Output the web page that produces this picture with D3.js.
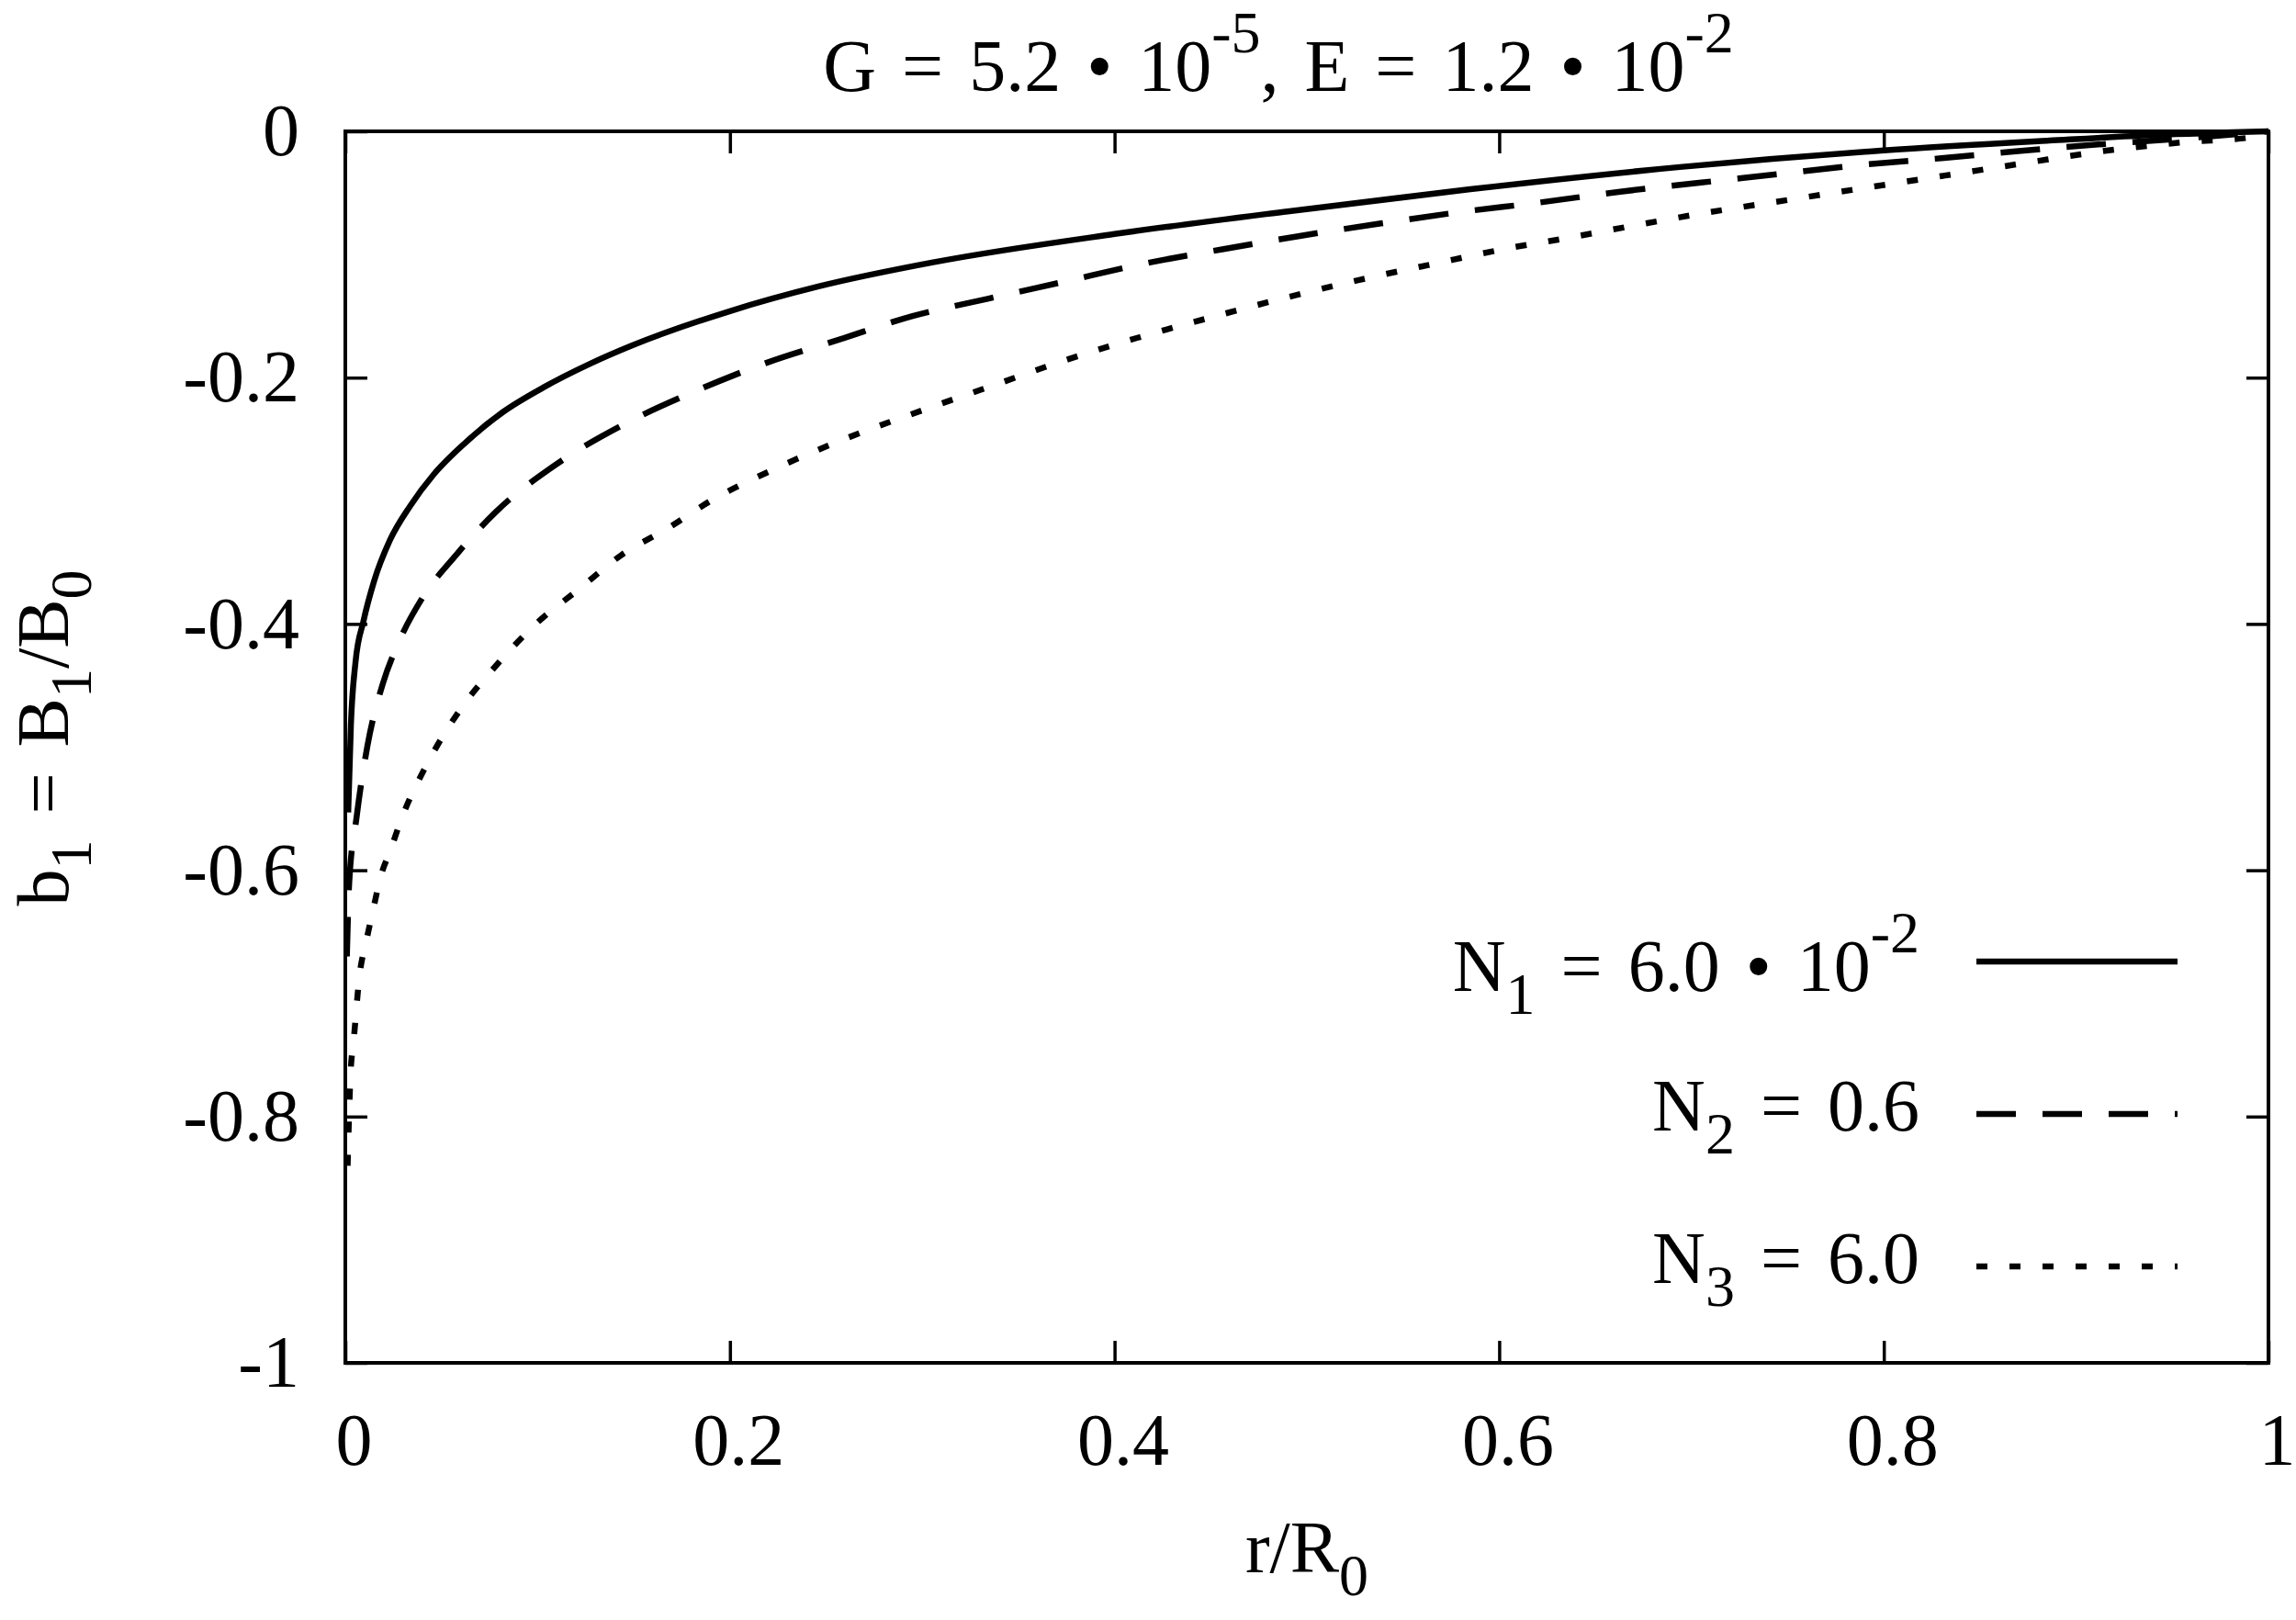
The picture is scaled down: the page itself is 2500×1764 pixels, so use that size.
<!DOCTYPE html>
<html>
<head>
<meta charset="utf-8">
<script src="https://cdn.jsdelivr.net/npm/d3@7"></script>
<style>
  body { margin: 0; background: #fff; }
  text { font-family: "Liberation Serif", "Times New Roman", serif; fill: #000; white-space: pre; }
</style>
</head>
<body>
<div id="chart"></div>
<script>
// values: [r/R0, b1]
const n1Points = [
  [0.0015, -0.553], [0.0029, -0.482], [0.0053, -0.431], [0.0094, -0.398], [0.015, -0.365],
  [0.0232, -0.332], [0.0338, -0.304], [0.046, -0.2785], [0.0623, -0.253], [0.0819, -0.228],
  [0.103, -0.208], [0.1275, -0.1886], [0.1487, -0.1742], [0.2, -0.146], [0.246, -0.126],
  [0.307, -0.106], [0.4, -0.0834], [0.49, -0.065], [0.585, -0.047], [0.694, -0.029],
  [0.8, -0.0155], [0.886, -0.0075], [0.941, -0.003], [1, 0]
];
const n2Points = [
  [0.0008, -0.67], [0.002, -0.611], [0.0059, -0.5565], [0.0115, -0.499], [0.0194, -0.449],
  [0.028, -0.414], [0.04, -0.379], [0.0576, -0.344], [0.0783, -0.309], [0.111, -0.269],
  [0.146, -0.237], [0.182, -0.211], [0.219, -0.188], [0.257, -0.169], [0.295, -0.15],
  [0.334, -0.136], [0.374, -0.122], [0.415, -0.1076], [0.456, -0.0958], [0.497, -0.0848],
  [0.5385, -0.0748], [0.58, -0.0655], [0.62, -0.058], [0.663, -0.049], [0.704, -0.0418],
  [0.746, -0.0346], [0.787, -0.0275], [0.83, -0.0218], [0.87, -0.0161], [0.914, -0.0104],
  [0.955, -0.006], [1, 0]
];
const n3Points = [
  [0.0012, -0.84], [0.0027, -0.766], [0.0043, -0.739], [0.0075, -0.684], [0.0107, -0.659],
  [0.0146, -0.631], [0.0186, -0.604], [0.0234, -0.584], [0.029, -0.559], [0.0433, -0.5115],
  [0.06, -0.469], [0.0783, -0.434], [0.0998, -0.399], [0.1213, -0.372], [0.1436, -0.344],
  [0.168, -0.322], [0.19, -0.3], [0.2248, -0.273], [0.261, -0.249], [0.301, -0.226],
  [0.3375, -0.206], [0.374, -0.186], [0.412, -0.1676], [0.4517, -0.1504], [0.4897, -0.1348],
  [0.5277, -0.1205], [0.566, -0.1076], [0.6055, -0.0947], [0.632, -0.0876], [0.667, -0.0774],
  [0.708, -0.066], [0.749, -0.056], [0.79, -0.046], [0.831, -0.0361], [0.872, -0.0261],
  [0.914, -0.0161], [0.955, -0.009], [0.993, -0.0045], [1, 0]
];
const seriesLabels = ["N_1 = 6.0 \u2022 10^{-2}", "N_2 = 0.6", "N_3 = 6.0"];
const xTicks = [0, 0.2, 0.4, 0.6, 0.8, 1];
const yTicks = [0, -0.2, -0.4, -0.6, -0.8, -1];
const titleText = "G = 5.2 \u2022 10^{-5}, E = 1.2 \u2022 10^{-2}";
const xLabel = "r/R_0";
const yLabel = "b_1 = B_1/B_0";

const width = 2500, height = 1764;
const plotLeft = 376, plotRight = 2470, plotTop = 143, plotBottom = 1484;
const fontSize = 80, smallSize = 64;

const svg = d3.select('#chart').append('svg')
  .attr('width', width).attr('height', height)
  .style('background', '#fff');

const x = d3.scaleLinear().domain([0, 1]).range([plotLeft, plotRight]);
const y = d3.scaleLinear().domain([-1, 0]).range([plotBottom, plotTop]);

//gnuplot style text: _x / _{..} for subscripts and ^x / ^{..} for superscripts
function richText(textSel, str){
  const re = /([_^])(\{[^}]*\}|.)/g;
  let last = 0, cur = 0, m;
  const parts = [];
  while((m = re.exec(str)) !== null){
    if(m.index > last) parts.push({t: str.slice(last, m.index), k: 'n'});
    let body = m[2];
    if(body[0] == '{') body = body.slice(1, -1);
    parts.push({t: body, k: m[1] == '_' ? 'sub' : 'sup'});
    last = re.lastIndex;
  }
  if(last < str.length) parts.push({t: str.slice(last), k: 'n'});
  textSel.attr('word-spacing', 8);
  parts.forEach(p => {
    let target = 0;
    if(p.k == 'sub') target = 25;
    if(p.k == 'sup') target = -42;
    textSel.append('tspan')
      .attr('dy', target - cur)
      .attr('font-size', p.k == 'n' ? fontSize : smallSize)
      .text(p.t);
    cur = target;
  });
  return textSel;
}

//ticks on all four sides, pointing inward
const tickLen = 24;
const fmt = d => String(d);

const xAxis = svg.append('g')
  .attr('transform', `translate(0,${plotBottom})`)
  .call(d3.axisBottom(x).tickValues(xTicks).tickSize(-tickLen).tickPadding(54).tickFormat(fmt));
xAxis.selectAll('text').attr('dx', 9);

const yAxis = svg.append('g')
  .attr('transform', `translate(${plotLeft},0)`)
  .call(d3.axisLeft(y).tickValues(yTicks).tickSize(-tickLen).tickPadding(50).tickFormat(fmt));

svg.append('g')
  .attr('transform', `translate(0,${plotTop})`)
  .call(d3.axisTop(x).tickValues(xTicks).tickSize(-tickLen).tickFormat(''));
svg.append('g')
  .attr('transform', `translate(${plotRight},0)`)
  .call(d3.axisRight(y).tickValues(yTicks).tickSize(-tickLen).tickFormat(''));

svg.selectAll('.domain').remove();
svg.selectAll('.tick line').attr('stroke', '#000').attr('stroke-width', 3.5);
svg.selectAll('.tick text')
  .attr('font-size', fontSize)
  .attr('font-family', '"Liberation Serif", serif')
  .attr('fill', '#000');

svg.append('rect')
  .attr('x', plotLeft).attr('y', plotTop)
  .attr('width', plotRight - plotLeft).attr('height', plotBottom - plotTop)
  .attr('fill', 'none').attr('stroke', '#000').attr('stroke-width', 4);

//curves
const series = [n1Points, n2Points, n3Points];
const dashes = [null, '43,29', '12,24'];
const line = d3.line()
  .x(d => x(d[0]))
  .y(d => y(d[1]))
  .curve(d3.curveMonotoneX);

svg.append('g').selectAll('path')
  .data(series)
  .enter()
  .append('path')
  .attr('d', d => line(d))
  .attr('fill', 'none')
  .attr('stroke', '#000')
  .attr('stroke-width', 6.5)
  .attr('stroke-linejoin', 'round')
  .attr('stroke-dasharray', (d, i) => dashes[i]);

//legend
const legendY0 = 1047, legendStep = 166;
const legendX1 = 2152, legendX2 = 2371, legendTextX = 2090;
seriesLabels.forEach((lab, i) => {
  const ly = legendY0 + i * legendStep;
  svg.append('line')
    .attr('x1', legendX1).attr('x2', legendX2)
    .attr('y1', ly).attr('y2', ly)
    .attr('stroke', '#000')
    .attr('stroke-width', 6.5)
    .attr('stroke-dasharray', dashes[i]);
  const t = svg.append('text')
    .attr('x', legendTextX).attr('y', ly)
    .attr('text-anchor', 'end')
    .attr('font-size', fontSize);
  richText(t, lab);
  //centre the whole text box on the sample line, as gnuplot does
  const bb = t.node().getBBox();
  t.attr('y', ly + (ly - (bb.y + bb.height / 2)) + 2);
});

//title and axis labels
richText(svg.append('text')
  .attr('x', 1392).attr('y', 99)
  .attr('text-anchor', 'middle')
  .attr('font-size', fontSize), titleText);

richText(svg.append('text')
  .attr('x', (plotLeft + plotRight) / 2).attr('y', 1712)
  .attr('text-anchor', 'middle')
  .attr('font-size', fontSize), xLabel);

richText(svg.append('text')
  .attr('transform', `translate(74,${(plotTop + plotBottom) / 2 - 10}) rotate(-90)`)
  .attr('text-anchor', 'middle')
  .attr('font-size', fontSize), yLabel);
</script>
</body>
</html>
